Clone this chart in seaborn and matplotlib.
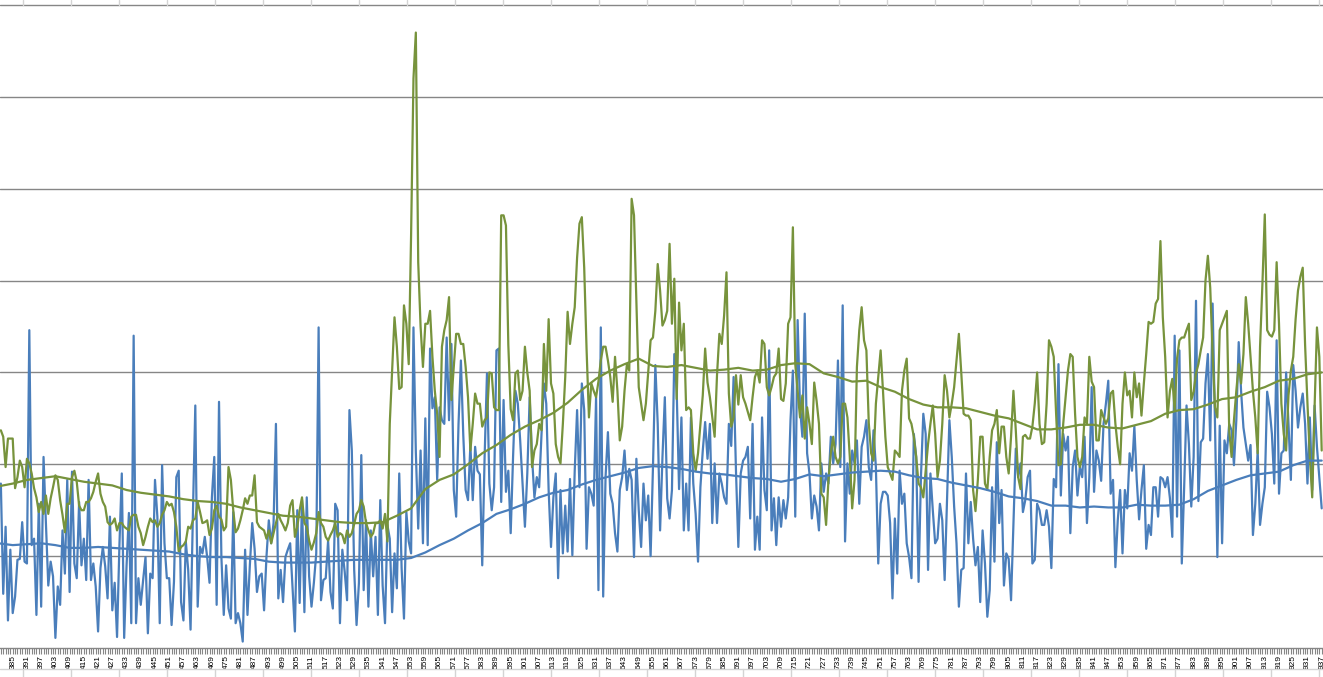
import numpy as np
import pandas as pd
import matplotlib
matplotlib.use("Agg")
import matplotlib.pyplot as plt
from matplotlib.lines import Line2D
import seaborn as sns

# ---------------- data (one value per category 380..937) ----------------
first_category = 380
last_category = 937

blue_values = [
    17.9, 5.9, 13.2, 3.0, 10.7, 3.8, 5.6, 9.6, 9.7, 13.7,      # 380
    9.4, 9.2, 34.6, 11.2, 11.9, 3.6, 15.7, 4.5, 20.8, 13.6,    # 390
    6.8, 9.4, 7.8, 1.1, 6.7, 4.7, 12.8, 8.1, 18.3, 6.1,        # 400
    19.2, 9.2, 7.6, 15.9, 9.0, 11.9, 7.4, 18.3, 7.4, 9.2,      # 410
    6.7, 1.8, 8.7, 11.0, 8.9, 5.4, 14.3, 4.1, 7.1, 1.2,        # 420
    11.2, 19.0, 1.1, 8.9, 14.7, 2.7, 34.0, 2.7, 7.6, 4.7,      # 430
    7.4, 9.9, 1.6, 8.1, 7.6, 18.3, 14.3, 2.7, 19.9, 11.4,      # 440
    7.6, 7.6, 2.5, 7.2, 18.6, 19.3, 5.0, 3.0, 11.6, 8.5,       # 450
    2.0, 14.7, 26.4, 4.5, 11.0, 10.3, 12.1, 9.9, 7.1, 16.4,    # 460
    20.8, 4.7, 26.8, 9.9, 3.6, 9.0, 4.3, 3.2, 14.8, 2.7,       # 470
    3.8, 2.7, 0.7, 10.7, 3.6, 9.0, 13.6, 10.8, 6.1, 7.8,       # 480
    8.1, 4.1, 9.9, 13.9, 11.4, 13.6, 24.4, 5.4, 8.5, 5.0,      # 490
    9.9, 10.7, 11.4, 6.5, 1.8, 15.0, 4.9, 16.1, 3.9, 16.4,     # 500
    7.8, 4.5, 7.1, 10.3, 34.9, 5.2, 7.4, 7.6, 11.7, 6.1,       # 510
    4.3, 15.7, 15.0, 2.7, 10.7, 8.3, 5.2, 25.9, 21.5, 8.5,     # 520
    2.5, 7.1, 21.0, 6.3, 13.9, 4.5, 12.8, 7.8, 12.1, 3.6,      # 530
    16.1, 6.8, 2.7, 13.4, 11.9, 3.9, 10.3, 6.5, 19.0, 8.7,     # 540
    3.2, 14.8, 11.6, 10.3, 34.9, 21.3, 13.0, 21.5, 11.4, 25.0, # 550
    11.2, 32.6, 26.1, 27.3, 18.3, 26.2, 24.8, 24.4, 33.8, 24.8,# 560
    33.1, 17.2, 14.3, 24.4, 31.3, 23.2, 17.2, 16.1, 22.1, 16.1,# 570
    21.9, 19.3, 18.9, 9.0, 20.8, 29.9, 17.9, 15.0, 17.5, 32.4, # 580
    32.6, 15.9, 27.0, 17.0, 19.3, 12.5, 20.8, 28.0, 26.6, 22.6,# 590
    17.9, 13.2, 19.0, 27.3, 20.8, 16.4, 18.6, 17.5, 23.3, 28.8,# 600
    26.6, 17.2, 11.0, 16.4, 19.0, 7.6, 17.2, 10.3, 15.5, 10.5, # 610
    18.4, 10.1, 19.3, 25.9, 17.5, 28.8, 25.9, 10.8, 17.5, 16.8,# 620
    15.5, 27.3, 6.3, 34.9, 5.6, 18.6, 23.5, 16.8, 15.7, 12.5,  # 630
    10.5, 17.2, 18.6, 21.5, 17.2, 19.5, 18.3, 9.9, 20.6, 15.0, # 640
    11.0, 17.9, 13.9, 16.6, 10.0, 19.7, 30.8, 24.4, 12.8, 20.8,# 650
    27.3, 16.3, 14.1, 17.2, 32.0, 28.0, 17.3, 25.1, 12.8, 17.9,# 660
    12.8, 25.1, 17.9, 14.6, 9.4, 17.5, 21.5, 24.6, 20.6, 24.4, # 670
    13.6, 20.1, 13.6, 19.0, 17.9, 16.4, 15.7, 24.4, 22.0, 29.5,# 680
    19.3, 11.0, 19.0, 20.4, 20.8, 21.9, 14.1, 24.4, 10.7, 14.3,# 690
    10.7, 25.1, 17.2, 15.0, 32.4, 12.8, 16.3, 11.2, 16.4, 13.2,# 700
    16.1, 14.1, 16.4, 24.8, 30.2, 14.3, 35.7, 26.2, 23.0, 36.4,# 710
    21.2, 19.0, 14.1, 16.6, 15.4, 12.8, 20.1, 17.0, 19.0, 17.9,# 720
    23.0, 20.1, 22.2, 31.3, 19.7, 37.3, 11.6, 20.1, 16.8, 21.5,# 730
    20.1, 22.6, 15.7, 21.9, 23.0, 24.8, 19.7, 18.3, 23.7, 19.7,# 740
    9.2, 15.7, 17.0, 17.0, 16.6, 13.6, 5.4, 14.1, 8.1, 19.3,   # 750
    15.7, 16.8, 11.4, 9.9, 7.6, 23.3, 20.8, 7.2, 18.6, 25.5,   # 760
    23.3, 8.5, 19.0, 15.0, 11.4, 11.9, 15.7, 13.9, 7.4, 16.3,  # 770
    24.8, 20.8, 15.4, 11.4, 4.5, 8.5, 8.7, 19.0, 11.4, 15.9,   # 780
    11.9, 9.0, 11.0, 5.0, 12.8, 9.2, 3.4, 6.3, 17.5, 9.4,      # 790
    22.4, 13.6, 17.2, 6.8, 10.3, 9.7, 5.2, 13.6, 21.7, 18.6,   # 800
    20.1, 14.8, 16.1, 18.6, 19.3, 9.2, 9.6, 15.7, 15.0, 13.4,  # 810
    13.4, 15.0, 13.2, 8.7, 18.4, 17.5, 30.9, 16.6, 23.3, 21.5, # 820
    23.0, 12.5, 19.7, 21.5, 16.6, 19.7, 18.6, 23.0, 13.6, 18.6,# 830
    28.4, 17.0, 21.5, 20.4, 18.2, 24.4, 26.6, 29.1, 16.8, 18.3,# 840
    8.8, 13.9, 17.2, 10.3, 17.2, 15.2, 21.2, 19.3, 24.1, 18.3, # 850
    14.0, 17.2, 19.9, 10.8, 13.4, 12.3, 17.5, 17.5, 14.3, 18.6,# 860
    18.4, 17.5, 18.6, 16.3, 12.1, 34.0, 14.3, 32.4, 9.2, 17.5, # 870
    26.4, 22.2, 15.4, 20.8, 37.8, 16.0, 22.4, 22.8, 28.8, 32.0,# 880
    22.6, 37.5, 24.4, 9.9, 24.2, 11.4, 22.6, 21.2, 24.4, 23.7, # 890
    19.9, 24.8, 33.3, 28.0, 24.0, 22.2, 20.4, 22.1, 12.3, 15.7,# 900
    21.5, 13.4, 15.7, 17.5, 27.9, 26.2, 23.3, 17.9, 33.5, 16.8,# 910
    21.2, 21.5, 30.0, 24.4, 18.3, 30.8, 28.0, 24.0, 26.2, 27.7,# 920
    24.4, 17.9, 25.1, 17.2, 26.4, 21.9, 18.6, 15.2,            # 930
]

green_values = [
    23.7, 23.0, 19.7, 22.8, 22.8, 22.8, 17.4, 18.6, 20.4, 19.7,  # 380
    17.5, 20.6, 20.1, 19.0, 17.4, 16.4, 14.8, 15.9, 14.6, 16.6,  # 390
    14.6, 16.3, 17.5, 18.8, 18.3, 16.1, 14.5, 12.6, 15.7, 15.7,  # 400
    18.6, 19.3, 18.1, 15.5, 15.0, 15.0, 15.9, 15.9, 16.3, 17.0,  # 410
    18.1, 19.0, 16.8, 15.9, 15.4, 13.7, 13.4, 13.6, 14.1, 12.8,  # 420
    13.6, 13.6, 13.2, 13.0, 12.8, 14.3, 14.5, 14.5, 13.2, 12.5,  # 430
    11.2, 12.1, 13.2, 14.1, 13.7, 13.9, 13.2, 13.6, 14.5, 15.0,  # 440
    15.9, 15.5, 15.7, 14.8, 13.2, 10.5, 11.0, 11.2, 11.6, 13.2,  # 450
    13.0, 13.9, 14.1, 15.9, 14.8, 13.6, 13.7, 13.9, 12.3, 13.0,  # 460
    15.0, 15.5, 14.3, 14.0, 12.8, 13.2, 19.7, 18.3, 15.0, 12.6,  # 470
    13.0, 13.9, 15.0, 16.3, 15.7, 16.6, 16.6, 18.8, 13.7, 13.2,  # 480
    13.0, 12.8, 11.9, 12.8, 11.4, 12.5, 13.6, 14.6, 13.9, 13.4,  # 490
    12.8, 13.6, 15.5, 16.1, 12.1, 13.2, 15.0, 16.4, 13.6, 13.2,  # 500
    11.7, 10.7, 11.5, 12.5, 14.8, 13.6, 13.2, 12.1, 11.7, 12.3,  # 510
    12.8, 13.6, 12.1, 12.5, 12.3, 11.4, 12.8, 12.1, 12.5, 13.5,  # 520
    14.6, 15.0, 16.1, 15.4, 13.6, 12.8, 12.1, 12.5, 13.6, 13.6,  # 530
    13.9, 13.0, 14.6, 11.6, 24.4, 30.2, 36.0, 32.8, 28.2, 28.4,  # 540
    37.3, 35.3, 30.9, 45.0, 62.0, 67.0, 42.0, 35.0, 30.6, 35.3,  # 550
    35.3, 36.7, 31.7, 28.0, 25.5, 20.8, 32.8, 34.6, 35.7, 38.2,  # 560
    27.0, 30.6, 34.2, 34.2, 33.1, 33.1, 30.6, 27.3, 21.5, 24.4,  # 570
    27.7, 26.6, 26.6, 24.1, 24.8, 25.1, 30.0, 29.9, 26.2, 25.9,  # 580
    25.9, 47.1, 47.1, 46.0, 33.0, 26.0, 24.8, 29.9, 30.2, 27.0,  # 590
    28.0, 32.8, 30.0, 28.0, 19.7, 21.5, 22.2, 24.4, 23.7, 33.1,  # 600
    28.0, 35.8, 28.8, 27.7, 22.2, 20.8, 20.1, 24.4, 29.5, 36.6,  # 610
    33.1, 35.3, 37.1, 42.5, 46.2, 46.9, 41.4, 32.5, 25.1, 28.8,  # 620
    28.0, 27.3, 29.0, 31.3, 32.8, 32.8, 31.3, 29.5, 26.8, 31.7,  # 630
    28.0, 22.6, 24.1, 28.0, 30.9, 30.2, 48.9, 47.1, 37.8, 28.4,  # 640
    26.6, 24.8, 26.6, 30.0, 33.5, 33.8, 36.7, 41.8, 38.9, 35.1,  # 650
    35.7, 36.7, 44.0, 35.3, 40.2, 27.1, 37.6, 32.4, 35.3, 25.9,  # 660
    26.2, 25.9, 21.2, 19.3, 21.2, 24.4, 27.5, 32.6, 28.9, 27.3,  # 670
    25.1, 23.0, 29.7, 34.2, 33.1, 36.2, 40.9, 27.7, 24.1, 25.1,  # 680
    29.7, 26.5, 29.7, 27.3, 26.6, 25.7, 24.8, 27.3, 29.5, 30.2,  # 690
    28.9, 33.5, 33.1, 28.4, 27.5, 28.4, 29.5, 29.9, 32.6, 27.1,  # 700
    26.9, 28.8, 35.3, 36.0, 45.8, 30.9, 28.0, 25.1, 27.5, 22.8,  # 710
    26.2, 24.4, 22.2, 28.9, 26.9, 24.4, 16.8, 16.4, 13.4, 18.3,  # 720
    21.2, 23.0, 20.8, 20.1, 20.8, 26.6, 26.6, 25.1, 20.8, 15.2,  # 730
    18.3, 30.6, 34.6, 37.1, 33.5, 32.4, 24.5, 21.2, 20.4, 26.6,  # 740
    29.5, 32.4, 28.0, 23.0, 19.7, 19.0, 18.3, 21.5, 21.2, 20.8,  # 750
    28.0, 30.2, 31.5, 25.0, 24.4, 23.0, 20.8, 17.9, 17.5, 16.4,  # 760
    19.3, 22.2, 24.4, 26.4, 23.3, 18.6, 20.4, 24.4, 29.7, 28.0,  # 770
    25.1, 26.6, 28.4, 31.3, 34.2, 30.0, 25.5, 25.3, 25.3, 24.8,  # 780
    17.2, 14.9, 18.3, 23.0, 23.0, 17.9, 17.2, 20.8, 23.7, 24.4,  # 790
    25.9, 21.2, 24.1, 24.1, 20.8, 19.0, 23.0, 28.0, 23.7, 18.6,  # 800
    17.3, 23.0, 23.2, 22.8, 22.8, 24.1, 26.6, 30.0, 24.4, 22.2,  # 810
    22.4, 26.6, 33.5, 32.8, 31.7, 25.5, 19.9, 20.0, 24.4, 27.3,  # 820
    30.2, 32.0, 31.7, 25.5, 20.8, 19.7, 20.8, 25.1, 24.4, 31.7,  # 830
    29.0, 28.4, 22.6, 22.6, 25.9, 25.1, 24.4, 25.0, 27.7, 28.0,  # 840
    24.4, 21.9, 20.0, 26.6, 30.0, 27.5, 28.0, 25.1, 30.0, 27.3,  # 850
    28.8, 25.3, 28.8, 32.0, 35.5, 35.3, 35.5, 37.5, 38.0, 44.3,  # 860
    36.0, 31.7, 25.1, 28.0, 29.3, 25.9, 31.5, 33.5, 33.8, 33.8,  # 870
    34.6, 35.3, 27.0, 27.9, 29.9, 30.9, 32.4, 33.8, 40.0, 42.7,  # 880
    39.2, 32.0, 26.2, 25.1, 34.6, 35.3, 36.0, 36.7, 23.7, 20.8,  # 890
    24.8, 28.0, 30.9, 28.8, 32.0, 38.2, 35.3, 31.7, 28.0, 25.1,  # 900
    21.2, 32.8, 39.6, 47.2, 34.6, 34.1, 33.9, 34.6, 42.0, 35.3,  # 910
    26.6, 23.3, 21.5, 27.5, 30.2, 31.7, 35.8, 38.9, 40.4, 41.4,  # 920
    33.0, 26.6, 20.8, 16.4, 26.2, 34.9, 31.7, 21.5,              # 930
]

# moving averages, read every 6 categories (379, 385, ..., 937)
ma_first_category = 379
ma_step = 6
blue_moving_avg = [
    11.4, 11.2, 11.3, 11.4, 11.2, 10.9, 10.9, 11.0, 10.9, 10.8,
    10.7, 10.6, 10.5, 10.2, 10.0, 9.9, 9.9, 9.8, 9.7, 9.4,
    9.3, 9.3, 9.3, 9.4, 9.5, 9.6, 9.6, 9.6, 9.6, 9.8,
    10.4, 11.2, 11.9, 12.8, 13.6, 14.6, 15.1, 15.7, 16.4, 16.9,
    17.2, 17.8, 18.3, 18.7, 19.1, 19.6, 19.8, 19.7, 19.5, 19.2,
    19.0, 18.9, 18.7, 18.5, 18.4, 18.1, 18.4, 18.9, 18.7, 18.9,
    19.1, 19.2, 19.3, 19.2, 18.8, 18.5, 18.4, 18.0, 17.7, 17.4,
    17.0, 16.5, 16.3, 16.0, 15.5, 15.5, 15.3, 15.4, 15.3, 15.3,
    15.6, 15.5, 15.5, 15.6, 16.2, 17.1, 17.7, 18.3, 18.8, 19.0,
    19.2, 19.9, 20.4, 20.4,
]
green_moving_avg = [
    17.6, 17.9, 18.3, 18.5, 18.7, 18.4, 18.1, 17.9, 17.7, 17.2,
    16.9, 16.7, 16.5, 16.2, 16.0, 15.9, 15.7, 15.3, 15.0, 14.7,
    14.4, 14.3, 14.1, 13.9, 13.7, 13.6, 13.6, 13.7, 14.4, 15.2,
    17.3, 18.3, 18.9, 20.0, 21.2, 22.1, 23.2, 24.1, 24.8, 25.6,
    26.7, 28.1, 29.3, 30.2, 30.9, 31.5, 30.7, 30.6, 30.8, 30.5,
    30.2, 30.3, 30.5, 30.2, 30.3, 30.8, 31.0, 30.9, 29.9, 29.5,
    29.0, 29.1, 28.4, 27.9, 27.1, 26.5, 26.2, 26.2, 26.1, 25.7,
    25.3, 25.0, 24.4, 23.8, 23.8, 24.0, 24.3, 24.3, 24.0, 23.9,
    24.3, 24.7, 25.5, 25.9, 26.0, 26.5, 27.1, 27.3, 27.9, 28.4,
    29.1, 29.3, 29.8, 30.0,
]

tick_label_start = 385
tick_label_step = 6

# ---------------- build tables ----------------
cats = np.arange(first_category, first_category + len(blue_values))
df_blue = pd.DataFrame({"category": cats, "value": blue_values})
df_green = pd.DataFrame({"category": np.arange(first_category, first_category + len(green_values)),
                         "value": green_values})
ma_cats = np.arange(ma_first_category, ma_first_category + ma_step * len(blue_moving_avg), ma_step)
df_blue_ma = pd.DataFrame({"category": ma_cats, "value": blue_moving_avg})
df_green_ma = pd.DataFrame({"category": ma_cats[:len(green_moving_avg)], "value": green_moving_avg})

# ---------------- style ----------------
sns.set_theme(style="white")
plt.rcParams["font.family"] = ["Liberation Sans", "DejaVu Sans"]

BLUE = "#4A7EBB"
GREEN = "#77933C"
GRID = "#868686"

W, H = 1323, 677
fig = plt.figure(figsize=(W / 100, H / 100), dpi=100)
fig.patch.set_facecolor("white")

ax_bottom_px, ax_top_px = 648, 3
ax = fig.add_axes([0, (H - ax_bottom_px) / H, 1, (ax_bottom_px - ax_top_px) / H])
ax.set_facecolor("white")

lw = 1.6
sns.lineplot(data=df_blue, x="category", y="value", color=BLUE, linewidth=lw,
             estimator=None, errorbar=None, ax=ax)
sns.lineplot(data=df_green, x="category", y="value", color=GREEN, linewidth=lw,
             estimator=None, errorbar=None, ax=ax)
sns.lineplot(data=df_blue_ma, x="category", y="value", color=BLUE, linewidth=lw,
             estimator=None, errorbar=None, ax=ax)
sns.lineplot(data=df_green_ma, x="category", y="value", color=GREEN, linewidth=lw,
             estimator=None, errorbar=None, ax=ax)

# axes limits: gridline 70 sits 5 px below the image top
ax.set_ylim(0, 70 * (ax_bottom_px - ax_top_px) / (ax_bottom_px - 5))
ax.set_xlim(first_category - 0.36, last_category + 0.55)

ax.set_yticks(np.arange(10, 71, 10))
ax.yaxis.grid(True, color=GRID, linewidth=1.0)
ax.xaxis.grid(False)
ax.set_axisbelow(True)
ax.tick_params(axis="y", left=False, labelleft=False)

major = np.arange(tick_label_start, last_category + 1, tick_label_step)
ax.set_xticks(major)
ax.set_xticklabels([str(v) for v in major], rotation=90, fontsize=6, color="black")
ax.set_xticks(np.arange(first_category, last_category + 1), minor=True)
ax.tick_params(axis="x", which="both", direction="out", length=4, width=0.8,
               color=GRID, pad=1, bottom=True)

for side in ["left", "right", "top"]:
    ax.spines[side].set_visible(False)
ax.spines["bottom"].set_color(GRID)
ax.spines["bottom"].set_linewidth(1.0)

ax.set_xlabel("")
ax.set_ylabel("")

# spreadsheet cell borders visible around the chart
CELL = "#d4d4d4"
for x in np.arange(22.7, W, 48):
    fig.add_artist(Line2D([x / W, x / W], [1 - 5 / H, 1.0], transform=fig.transFigure,
                          color=CELL, linewidth=1.0))
    fig.add_artist(Line2D([x / W, x / W], [0.0, 1 - 669 / H], transform=fig.transFigure,
                          color=CELL, linewidth=1.0))
fig.add_artist(Line2D([0, 1], [1 - 669 / H, 1 - 669 / H], transform=fig.transFigure,
                      color=CELL, linewidth=1.0))

fig.savefig("out.png", dpi=100, facecolor="white")
